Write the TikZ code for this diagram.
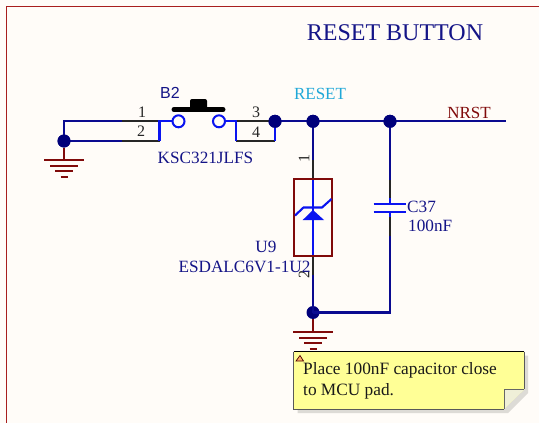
\documentclass[tikz,border=0pt]{standalone}
\usepackage{fontspec}
\setmainfont{Liberation Serif}
\newfontfamily\arialf{Liberation Sans}
\usetikzlibrary{calc}
\definecolor{bgc}{HTML}{FFFCF8}
\definecolor{wirec}{HTML}{0A0A90}
\definecolor{dotc}{HTML}{00007A}
\definecolor{bluec}{HTML}{0A14F0}
\definecolor{navyt}{HTML}{141487}
\definecolor{redd}{HTML}{800A0A}
\definecolor{framec}{HTML}{A81E1E}
\definecolor{cyant}{HTML}{20A8D8}
\definecolor{notey}{HTML}{FFFF96}
\definecolor{foldc}{HTML}{EFEFD8}
\definecolor{shadowc}{HTML}{DDDBD6}
\tikzset{
  wire/.style={draw=wirec,line width=2.1pt},
  pin/.style={draw=black!85,line width=2.1pt},
  part/.style={draw=bluec,line width=2.1pt},
  gndl/.style={draw=redd,line width=2.1pt},
  dot/.style={circle,fill=dotc,draw=none,minimum size=13pt,inner sep=0pt},
  contact/.style={circle,draw=bluec,fill=bgc,line width=2pt,minimum size=12pt,inner sep=0pt},
  lab/.style={inner sep=0pt,text=navyt,font=\fontsize{17.2}{19}\selectfont},
  pinnum/.style={inner sep=0pt,text=black!85,font=\fontsize{16}{18}\selectfont},
}
\newcommand{\gndsym}[1]{%
  \draw[gndl] ($(#1)+(-20,0)$) -- ($(#1)+(20,0)$);
  \draw[gndl] ($(#1)+(-14,5.7)$) -- ($(#1)+(14,5.7)$);
  \draw[gndl] ($(#1)+(-9,11.3)$) -- ($(#1)+(9,11.3)$);
  \draw[gndl] ($(#1)+(-3.5,17)$) -- ($(#1)+(3.5,17)$);
}
\begin{document}
\begin{tikzpicture}[x=1pt,y=-1pt]
\useasboundingbox (0,0) rectangle (539,423);
\fill[bgc] (0,0) rectangle (539,423);
\draw[framec,line width=1.3pt] (6.5,423) -- (6.5,6.5) -- (539,6.5);
\node[inner sep=0pt,text=navyt,font=\fontsize{24}{26}\selectfont] (title) at (395,32.5) {RESET BUTTON};

% coordinates
\coordinate (p1a) at (121.5,121.3);
\coordinate (p1b) at (159.5,121.3);
\coordinate (p2a) at (121.5,141);
\coordinate (p2b) at (159.5,141);
\coordinate (p3a) at (236,121.3);
\coordinate (p4a) at (236,141);
\coordinate (p4b) at (275,141);
\coordinate (gtl) at (64,121.3);
\coordinate (g1) at (64,160);
\coordinate (g2) at (313,332);
\coordinate (nrst) at (505.5,121.3);
\coordinate (zt) at (313,179);
\coordinate (zb) at (313,255.5);
\coordinate (zpt) at (313,160);
\coordinate (zpb) at (313,275);
\coordinate (cpt) at (390,180);
\coordinate (cst) at (390,198);
\coordinate (cpl1) at (390,204);
\coordinate (cpl2) at (390,212);
\coordinate (csb) at (390,217);
\coordinate (cpb) at (390,236);
\coordinate (cbr) at (390,312.5);

\node[dot] (j1) at (64,141) {};
\node[dot] (j2) at (275,121.3) {};
\node[dot] (j3) at (313,121.3) {};
\node[dot] (j4) at (390,121.3) {};
\node[dot] (j5) at (313,312.5) {};

% wires
\draw[wire] (p1a) -- (gtl) -- (j1.center) -- (p2a);
\draw[wire] (j2.center) -- (nrst);
\draw[wire] (j3.center) -- (zpt);
\draw[wire] (zpb) -- (j5.center);
\draw[wire] (j4.center) -- (cpt);
\draw[wire] (cpb) -- (cbr) -- (j5.center);
% pins
\draw[pin] (p1a) -- (p1b);
\draw[pin] (p2a) -- (p2b);
\draw[pin] (p3a) -- (j2.center);
\draw[pin] (p4a) -- (p4b);
\draw[pin] (zpt) -- (zt);
\draw[pin] (zb) -- (zpb);
\draw[pin] (cpt) -- (cst);
\draw[pin] (csb) -- (cpb);
% switch wiring
\node[contact] (c1) at (178.5,121.3) {};
\node[contact] (c2) at (219,121.3) {};
\draw[part] (c1) -- (p1b) -- (p2b);
\draw[part] (c2) -- (p3a) -- (p4a);
\draw[part] (p4b) -- (j2.center);
\fill[dotc] (j2) circle (6.5);
\fill[dotc] (j1) circle (6.5);
\fill[dotc] (j3) circle (6.5);
\fill[dotc] (j4) circle (6.5);
% button
\draw[black,line width=5pt,line cap=round] (174,109.5) -- (223,109.5);
\fill[black,rounded corners=2pt] (190,99) rectangle (207,109);
% ground
\draw[gndl] (j1.south) -- (g1);
\draw[gndl] (j5.south) -- (g2);
\gndsym{g1}
\gndsym{g2}
% zener
\draw[part] (zt) -- (zb);
\draw[redd,line width=2pt] (293.8,179) rectangle (332.3,255.5);
\fill[bluec] (302.7,220) -- (313,210) -- (324,220) -- cycle;
\draw[part] (295,215.5) -- (303.5,207.5) -- (322,207.5) -- (331.5,199);
% capacitor
\draw[part] (cst) -- (cpl1);
\draw[part] (cpl2) -- (csb);
\draw[part] (373.7,204) -- (405.7,204);
\draw[part] (373.7,212) -- (405.7,212);
% labels
\node[inner sep=0pt,text=navyt,font=\arialf\fontsize{16}{18}\selectfont] (b2) at (170,92.5) {B2};
\node[pinnum] (n1) at (142,112.5) {1};
\node[pinnum] (n2) at (141,131.5) {2};
\node[pinnum] (n3) at (256,112.5) {3};
\node[pinnum] (n4) at (256,132) {4};
\node[lab] (ksc) at (205.5,157.5) {KSC321JLFS};
\node[inner sep=0pt,text=cyant,font=\fontsize{17}{19}\selectfont] (rst) at (320,93.5) {RESET};
\node[inner sep=0pt,text=redd,font=\fontsize{17}{19}\selectfont] (nr) at (469,113) {NRST};
\node[pinnum,rotate=90] (z1) at (304,158.5) {1};
\node[pinnum,rotate=90] (z2) at (304,274) {2};
\node[lab] (u9) at (266,246.5) {U9};
\node[lab] (esd) at (244.5,266.5) {ESDALC6V1-1U2};
\node[lab,anchor=west] (c37) at (407,206.5) {C37};
\node[lab,anchor=west] (v100) at (408,225.5) {100nF};
% note
\fill[shadowc] (297.5,355.5) -- (528,355.5) -- (528,393) -- (508,413) -- (297.5,413) -- cycle;
\fill[notey] (293.8,351.7) -- (524.3,351.7) -- (524.3,389.3) -- (504,409) -- (293.8,409) -- cycle;
\fill[foldc] (504,409) -- (504,389.3) -- (524.3,389.3) -- cycle;
\draw[black!60,line width=0.8pt] (504,409) -- (504,389.3) -- (524.3,389.3);
\draw[black!65,line width=1pt] (293.8,351.7) -- (293.8,409) -- (504,409);
\draw[black!65,line width=1pt] (524.3,351.7) -- (524.3,389.3);
\draw[black,line width=0.9pt] (293.8,351.7) -- (524.3,351.7);
\draw[black!70!red,fill=orange!60,line width=0.7pt] (296,361) -- (300,355.5) -- (303.5,361) -- cycle;
\node[inner sep=0pt,anchor=west,text=black!90,font=\fontsize{17.3}{19}\selectfont] (note1) at (303,370.5) {Place 100nF capacitor close};
\node[inner sep=0pt,anchor=west,text=black!90,font=\fontsize{17.3}{19}\selectfont] (note2) at (303,391.5) {to MCU pad.};
\end{tikzpicture}
\end{document}
